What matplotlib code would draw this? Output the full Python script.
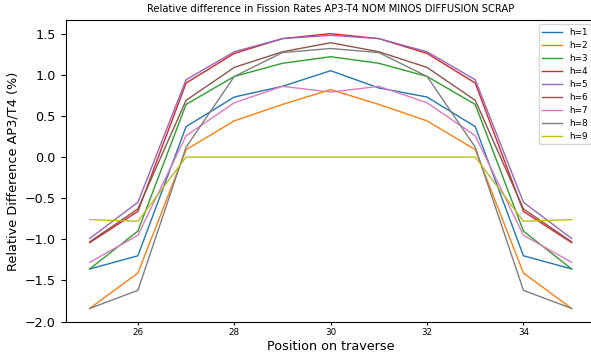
import matplotlib
matplotlib.use('Agg')
import matplotlib.pyplot as plt
import numpy as np

positions = [25, 26, 27, 28, 29, 30, 31, 32, 33, 34, 35]

h1 = [-1.36, -1.20, 0.37, 0.73, 0.86, 1.05, 0.84, 0.73, 0.37, -1.20, -1.36]
h2 = [-1.84, -1.41, 0.09, 0.44, 0.64, 0.82, 0.64, 0.44, 0.09, -1.41, -1.84]
h3 = [-1.36, -0.90, 0.64, 0.98, 1.14, 1.22, 1.14, 0.98, 0.64, -0.90, -1.36]
h4 = [-1.04, -0.66, 0.90, 1.26, 1.44, 1.50, 1.44, 1.26, 0.90, -0.66, -1.04]
h5 = [-0.99, -0.55, 0.94, 1.28, 1.44, 1.48, 1.44, 1.28, 0.94, -0.55, -0.99]
h6 = [-1.03, -0.63, 0.69, 1.09, 1.28, 1.39, 1.28, 1.09, 0.69, -0.63, -1.03]
h7 = [-1.28, -0.95, 0.26, 0.66, 0.86, 0.79, 0.86, 0.66, 0.26, -0.95, -1.28]
h8 = [-1.84, -1.62, 0.12, 0.98, 1.27, 1.32, 1.27, 0.98, 0.12, -1.62, -1.84]
h9 = [-0.76, -0.78, 0.0, 0.0, 0.0, 0.0, 0.0, 0.0, 0.0, -0.78, -0.76]

series = [h1, h2, h3, h4, h5, h6, h7, h8, h9]
labels = ['h=%d' % (i + 1) for i in range(len(series))]

fig = plt.figure(figsize=(5.91, 3.56), dpi=100)
# axes runs slightly past the right edge of the figure
ax = fig.add_axes([0.111, 0.095, 0.897, 0.849])

for vals, lab in zip(series, labels):
    ax.plot(positions, vals, label=lab, linewidth=1.0)

ax.set_title('Relative difference in Fission Rates AP3-T4 NOM MINOS DIFFUSION SCRAP', fontsize=7.2)
ax.set_xlabel('Position on traverse', fontsize=9.2, labelpad=2)
ax.set_ylabel('Relative Difference AP3/T4 (%)', fontsize=9.3)
ax.set_xticks([26, 28, 30, 32, 34])
ax.tick_params(axis='x', labelsize=6.3, length=2.5, pad=2)
ax.tick_params(axis='y', labelsize=9.2)
ax.legend(loc='upper right', fontsize=6.4, handlelength=2.2, labelspacing=0.45)

fig.savefig('out.png', dpi=100)
